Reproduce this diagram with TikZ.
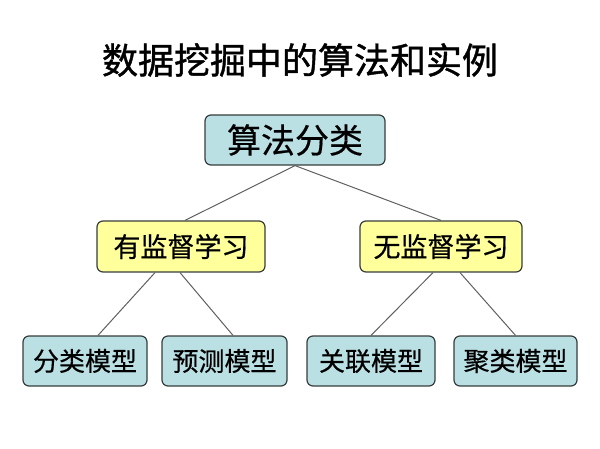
\documentclass[tikz,border=0pt]{standalone}
\usepackage{fontspec}
\setmainfont{Noto Sans CJK SC}[FakeBold=0.5]
\newfontfamily\titlefont{Noto Sans CJK SC}[FakeBold=1.2]
\definecolor{boxblue}{RGB}{186,224,228}
\definecolor{boxyellow}{RGB}{255,255,156}
\definecolor{boxline}{RGB}{55,60,60}
\definecolor{linkgray}{RGB}{95,95,95}

\begin{document}
\begin{tikzpicture}[
    x=1pt,
    y=-1pt,
    box/.style={draw=boxline,line width=1.2pt,rounded corners=6pt,inner sep=0pt},
    top box/.style={box,fill=boxblue,minimum width=180pt,minimum height=50pt,font=\fontsize{34}{40}\selectfont},
    mid box/.style={box,fill=boxyellow,minimum height=51pt,font=\fontsize{27}{32}\selectfont},
    leaf box/.style={box,fill=boxblue,minimum height=50pt,font=\fontsize{26}{31}\selectfont},
    link/.style={draw=linkgray,line width=1pt},
  ]
  \useasboundingbox (0,0) rectangle (600,449);
  \node[font=\titlefont\fontsize{36}{42}\selectfont] (title) at (300,60) {数据挖掘中的算法和实例};
  \node[top box] (algo) at (295,140) {算法分类};
  \node[mid box,minimum width=168pt] (sup) at (181,246.5) {有监督学习};
  \node[mid box,minimum width=162pt] (unsup) at (441,246.5) {无监督学习};
  \node[leaf box,minimum width=124pt] (cls) at (85,361) {分类模型};
  \node[leaf box,minimum width=125pt] (pred) at (224.5,361) {预测模型};
  \node[leaf box,minimum width=128pt] (assoc) at (371,361) {关联模型};
  \node[leaf box,minimum width=123pt] (clust) at (515.5,361) {聚类模型};
  \draw[link] (algo.south) -- ([xshift=4pt]sup.north);
  \draw[link] (algo.south) -- (unsup.north);
  \draw[link] ([xshift=-26pt]sup.south) -- ([xshift=13pt]cls.north);
  \draw[link] ([xshift=-1pt]sup.south) -- ([xshift=8.5pt]pred.north);
  \draw[link] ([xshift=-8pt]unsup.south) -- (assoc.north);
  \draw[link] ([xshift=19pt]unsup.south) -- (clust.north);
\end{tikzpicture}
\end{document}
